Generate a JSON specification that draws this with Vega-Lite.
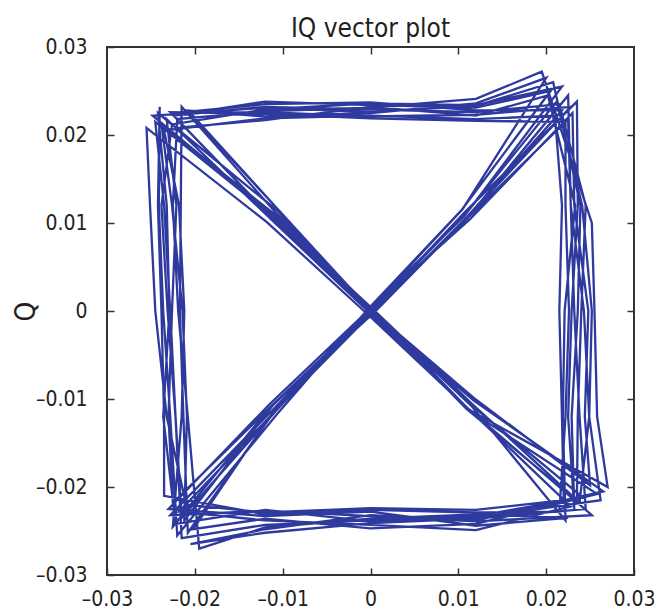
{
  "$schema": "https://vega.github.io/schema/vega-lite/v6.json",
  "autosize": {"type": "none"},
  "padding": {"left": 107, "top": 47, "right": 21, "bottom": 38},
  "width": 527,
  "height": 528,
  "background": "white",
  "title": {"text": "IQ vector plot", "fontSize": 26, "font": "Liberation Sans Narrow, DejaVu Sans Condensed, Roboto Condensed, sans-serif", "fontWeight": "normal", "color": "#231f20", "offset": -6},
  "config": {"view": {"stroke": "#333333", "strokeWidth": 2}},
  "data": {"values": [
    {"i":0,"x":-0.0225,"y":0.0222},
    {"i":1,"x":-0.012,"y":0.0232},{"i":2,"x":0.0,"y":0.0229},{"i":3,"x":0.012,"y":0.0226},{"i":4,"x":0.0215,"y":0.0235},
    {"i":5,"x":0.0245,"y":0.012},{"i":6,"x":0.024,"y":0.0},{"i":7,"x":0.0236,"y":-0.012},{"i":8,"x":0.0235,"y":-0.0215},
    {"i":9,"x":0.0115,"y":-0.0105},{"i":10,"x":0.0003,"y":0.0002},{"i":11,"x":-0.0112,"y":0.0108},{"i":12,"x":-0.0245,"y":0.0215},
    {"i":13,"x":-0.0235,"y":0.012},{"i":14,"x":-0.0228,"y":0.0},{"i":15,"x":-0.0222,"y":-0.012},{"i":16,"x":-0.0215,"y":-0.0235},
    {"i":17,"x":-0.0108,"y":-0.0114},{"i":18,"x":-0.0002,"y":0.0001},{"i":19,"x":0.0105,"y":0.0116},{"i":20,"x":0.02,"y":0.0265},
    {"i":21,"x":0.012,"y":0.0236},{"i":22,"x":0.0,"y":0.0225},{"i":23,"x":-0.012,"y":0.0221},{"i":24,"x":-0.021,"y":0.0228},
    {"i":25,"x":-0.0102,"y":0.0112},{"i":26,"x":0.0001,"y":-0.0003},{"i":27,"x":0.0118,"y":-0.0102},{"i":28,"x":0.0265,"y":-0.0205},
    {"i":29,"x":0.012,"y":-0.0238},{"i":30,"x":0.0,"y":-0.0232},{"i":31,"x":-0.012,"y":-0.0248},{"i":32,"x":-0.0205,"y":-0.0265},
    {"i":33,"x":-0.012,"y":-0.0252},{"i":34,"x":0.0,"y":-0.0241},{"i":35,"x":0.012,"y":-0.0236},{"i":36,"x":0.0245,"y":-0.0225},
    {"i":37,"x":0.0238,"y":-0.012},{"i":38,"x":0.0232,"y":0.0},{"i":39,"x":0.0228,"y":0.012},{"i":40,"x":0.0225,"y":0.0245},
    {"i":41,"x":0.0112,"y":0.0108},{"i":42,"x":0.0004,"y":-0.0002},{"i":43,"x":-0.0114,"y":-0.0109},{"i":44,"x":-0.0225,"y":-0.0245},
    {"i":45,"x":-0.0215,"y":-0.012},{"i":46,"x":-0.0212,"y":0.0},{"i":47,"x":-0.0218,"y":0.012},{"i":48,"x":-0.0235,"y":0.0205},
    {"i":49,"x":-0.012,"y":0.0219},{"i":50,"x":0.0,"y":0.0222},{"i":51,"x":0.012,"y":0.0218},{"i":52,"x":0.021,"y":0.0222},
    {"i":53,"x":0.0218,"y":0.012},{"i":54,"x":0.0215,"y":0.0},{"i":55,"x":0.0218,"y":-0.012},{"i":56,"x":0.022,"y":-0.0215},
    {"i":57,"x":0.012,"y":-0.0226},{"i":58,"x":0.0,"y":-0.0224},{"i":59,"x":-0.012,"y":-0.0229},{"i":60,"x":-0.021,"y":-0.022},
    {"i":61,"x":-0.0232,"y":-0.012},{"i":62,"x":-0.0245,"y":0.0},{"i":63,"x":-0.0251,"y":0.012},{"i":64,"x":-0.0255,"y":0.0208},
    {"i":65,"x":-0.0118,"y":0.0101},{"i":66,"x":-0.0003,"y":-0.0004},{"i":67,"x":0.0112,"y":-0.0112},{"i":68,"x":0.027,"y":-0.02},
    {"i":69,"x":0.0258,"y":-0.012},{"i":70,"x":0.0255,"y":0.0},{"i":71,"x":0.0252,"y":0.01},{"i":72,"x":0.0195,"y":0.0272},
    {"i":73,"x":0.012,"y":0.0241},{"i":74,"x":0.0,"y":0.0231},{"i":75,"x":-0.012,"y":0.0227},{"i":76,"x":-0.022,"y":0.0218},
    {"i":77,"x":-0.0225,"y":0.012},{"i":78,"x":-0.0219,"y":0.0},{"i":79,"x":-0.0208,"y":-0.012},{"i":80,"x":-0.0195,"y":-0.027},
    {"i":81,"x":-0.012,"y":-0.0246},{"i":82,"x":0.0,"y":-0.0236},{"i":83,"x":0.012,"y":-0.0231},{"i":84,"x":0.0225,"y":-0.0235},
    {"i":85,"x":0.012,"y":-0.0244},{"i":86,"x":0.0,"y":-0.0228},{"i":87,"x":-0.012,"y":-0.0233},{"i":88,"x":-0.023,"y":-0.0225},
    {"i":89,"x":-0.0115,"y":-0.0106},{"i":90,"x":0.0,"y":0.0003},{"i":91,"x":0.0113,"y":0.0104},{"i":92,"x":0.023,"y":0.0225},
    {"i":93,"x":0.0232,"y":0.012},{"i":94,"x":0.0248,"y":0.0},{"i":95,"x":0.0244,"y":-0.012},{"i":96,"x":0.025,"y":-0.0198},
    {"i":97,"x":0.0118,"y":-0.0099},{"i":98,"x":-0.0002,"y":0.0003},{"i":99,"x":-0.0105,"y":0.0115},{"i":100,"x":-0.0205,"y":0.0225},
    {"i":101,"x":-0.012,"y":0.0238},{"i":102,"x":0.0,"y":0.0234},{"i":103,"x":0.012,"y":0.0231},{"i":104,"x":0.0205,"y":0.025},
    {"i":105,"x":0.0104,"y":0.0115},{"i":106,"x":-0.0003,"y":0.0002},{"i":107,"x":-0.0107,"y":-0.0118},{"i":108,"x":-0.022,"y":-0.0255},
    {"i":109,"x":-0.0228,"y":-0.012},{"i":110,"x":-0.0236,"y":0.0},{"i":111,"x":-0.0241,"y":0.012},{"i":112,"x":-0.024,"y":0.0232},
    {"i":113,"x":-0.0242,"y":0.012},{"i":114,"x":-0.0238,"y":0.0},{"i":115,"x":-0.0235,"y":-0.012},{"i":116,"x":-0.0235,"y":-0.021},
    {"i":117,"x":-0.012,"y":-0.0231},{"i":118,"x":0.0,"y":-0.0226},{"i":119,"x":0.012,"y":-0.0229},{"i":120,"x":0.0215,"y":-0.0228},
    {"i":121,"x":0.0222,"y":-0.012},{"i":122,"x":0.0226,"y":0.0},{"i":123,"x":0.0222,"y":0.012},{"i":124,"x":0.0222,"y":0.0215},
    {"i":125,"x":0.012,"y":0.0216},{"i":126,"x":0.0,"y":0.0219},{"i":127,"x":-0.012,"y":0.0224},{"i":128,"x":-0.0228,"y":0.0226},
    {"i":129,"x":-0.0112,"y":0.0106},{"i":130,"x":0.0002,"y":-0.0001},{"i":131,"x":0.0109,"y":-0.0111},{"i":132,"x":0.0238,"y":-0.0218},
    {"i":133,"x":0.0249,"y":-0.012},{"i":134,"x":0.0252,"y":0.0},{"i":135,"x":0.0241,"y":0.012},{"i":136,"x":0.0212,"y":0.0238},
    {"i":137,"x":0.0109,"y":0.0111},{"i":138,"x":0.0001,"y":0.0001},{"i":139,"x":-0.0111,"y":-0.0107},{"i":140,"x":-0.0212,"y":-0.0238},
    {"i":141,"x":-0.0209,"y":-0.012},{"i":142,"x":-0.0214,"y":0.0},{"i":143,"x":-0.0226,"y":0.012},{"i":144,"x":-0.0238,"y":0.0212},
    {"i":145,"x":-0.0108,"y":0.0109},{"i":146,"x":-0.0001,"y":0.0002},{"i":147,"x":0.0107,"y":-0.0107},{"i":148,"x":0.0228,"y":-0.0222},
    {"i":149,"x":0.012,"y":-0.0249},{"i":150,"x":0.0,"y":-0.0243},{"i":151,"x":-0.012,"y":-0.0238},{"i":152,"x":-0.0218,"y":-0.0228},
    {"i":153,"x":-0.0106,"y":-0.0111},{"i":154,"x":0.0002,"y":-0.0002},{"i":155,"x":0.011,"y":0.0107},{"i":156,"x":0.0218,"y":0.0228},
    {"i":157,"x":0.012,"y":0.0228},{"i":158,"x":0.0,"y":0.0237},{"i":159,"x":-0.012,"y":0.0235},{"i":160,"x":-0.0222,"y":0.0225},
    {"i":161,"x":-0.012,"y":0.0226},{"i":162,"x":0.0,"y":0.0221},{"i":163,"x":0.012,"y":0.0223},{"i":164,"x":0.0228,"y":0.0232},
    {"i":165,"x":0.0116,"y":0.0113},{"i":166,"x":0.0001,"y":-0.0003},{"i":167,"x":-0.0109,"y":-0.0112},{"i":168,"x":-0.0202,"y":-0.0248},
    {"i":169,"x":-0.012,"y":-0.0236},{"i":170,"x":0.0,"y":-0.0247},{"i":171,"x":0.012,"y":-0.0242},{"i":172,"x":0.0258,"y":-0.0208},
    {"i":173,"x":0.0112,"y":-0.0113},{"i":174,"x":-0.0002,"y":-0.0001},{"i":175,"x":-0.0113,"y":0.0104},{"i":176,"x":-0.0232,"y":0.0218},
    {"i":177,"x":-0.0221,"y":0.012},{"i":178,"x":-0.0226,"y":0.0},{"i":179,"x":-0.023,"y":-0.012},{"i":180,"x":-0.0225,"y":-0.0218},
    {"i":181,"x":-0.0113,"y":-0.0108},{"i":182,"x":0.0003,"y":0.0002},{"i":183,"x":0.0108,"y":0.0113},{"i":184,"x":0.0235,"y":0.0238},
    {"i":185,"x":0.0236,"y":0.012},{"i":186,"x":0.0229,"y":0.0},{"i":187,"x":0.0225,"y":-0.012},{"i":188,"x":0.0232,"y":-0.0225},
    {"i":189,"x":0.0229,"y":-0.012},{"i":190,"x":0.0236,"y":0.0},{"i":191,"x":0.0239,"y":0.012},{"i":192,"x":0.0208,"y":0.026},
    {"i":193,"x":0.012,"y":0.0233},{"i":194,"x":0.0,"y":0.0226},{"i":195,"x":-0.012,"y":0.0231},{"i":196,"x":-0.0248,"y":0.0222},
    {"i":197,"x":-0.0115,"y":0.0112},{"i":198,"x":0.0,"y":0.0},{"i":199,"x":0.0114,"y":-0.0106},{"i":200,"x":0.0242,"y":-0.0212},
    {"i":201,"x":0.012,"y":-0.0233},{"i":202,"x":0.0,"y":-0.0238},{"i":203,"x":-0.012,"y":-0.0243},{"i":204,"x":-0.0215,"y":-0.0258},
    {"i":205,"x":-0.0222,"y":-0.012},{"i":206,"x":-0.0231,"y":0.0},{"i":207,"x":-0.0238,"y":0.012},{"i":208,"x":-0.0226,"y":0.0212},
    {"i":209,"x":-0.012,"y":0.0229},{"i":210,"x":0.0,"y":0.0236},{"i":211,"x":0.012,"y":0.0234},{"i":212,"x":0.0218,"y":0.0255},
    {"i":213,"x":0.0107,"y":0.0108},{"i":214,"x":-0.0001,"y":0.0003},{"i":215,"x":-0.0112,"y":-0.0113},{"i":216,"x":-0.0228,"y":-0.0232},
    {"i":217,"x":-0.012,"y":-0.0227},{"i":218,"x":0.0,"y":-0.0233},{"i":219,"x":0.012,"y":-0.0239},{"i":220,"x":0.0252,"y":-0.0232},
    {"i":221,"x":0.0108,"y":-0.0108},{"i":222,"x":0.0001,"y":0.0002},{"i":223,"x":-0.0108,"y":0.0112},{"i":224,"x":-0.0215,"y":0.0232},
    {"i":225,"x":-0.0216,"y":0.012},{"i":226,"x":-0.0217,"y":0.0},{"i":227,"x":-0.0213,"y":-0.012},{"i":228,"x":-0.0208,"y":-0.0252},
    {"i":229,"x":-0.011,"y":-0.0115},{"i":230,"x":-0.0001,"y":-0.0002},{"i":231,"x":0.0115,"y":0.011},{"i":232,"x":0.0225,"y":0.0218},
    {"i":233,"x":0.0228,"y":0.012},{"i":234,"x":0.0243,"y":0.0},{"i":235,"x":0.0249,"y":-0.012},{"i":236,"x":0.0262,"y":-0.0215},
    {"i":237,"x":0.012,"y":-0.0235},{"i":238,"x":0.0,"y":-0.0239},{"i":239,"x":-0.012,"y":-0.0226},{"i":240,"x":-0.0222,"y":-0.0242},
    {"i":241,"x":-0.0236,"y":-0.012},{"i":242,"x":-0.0229,"y":0.0},{"i":243,"x":-0.0232,"y":0.012},{"i":244,"x":-0.0242,"y":0.0225},
    {"i":245,"x":-0.0106,"y":0.0114},{"i":246,"x":0.0003,"y":-0.0002},{"i":247,"x":0.0116,"y":-0.0109},{"i":248,"x":0.0222,"y":-0.0238},
    {"i":249,"x":0.0219,"y":-0.012},{"i":250,"x":0.0221,"y":0.0},{"i":251,"x":0.0233,"y":0.012},{"i":252,"x":0.0202,"y":0.0245},
    {"i":253,"x":0.012,"y":0.0222},{"i":254,"x":0.0,"y":0.0232},{"i":255,"x":-0.012,"y":0.0217},{"i":256,"x":-0.0222,"y":0.0208}
  ]},
  "resolve": {"axis": {"x": "independent", "y": "independent"}},
  "layer": [
    {
      "mark": {"type": "line", "color": "#2e3a9e", "strokeWidth": 2.3, "strokeJoin": "miter", "clip": true},
      "encoding": {
        "order": {"field": "i", "type": "quantitative"},
        "x": {"field": "x", "type": "quantitative", "scale": {"domain": [-0.03, 0.03], "nice": false, "zero": false},
          "axis": {"orient": "bottom", "title": null, "values": [-0.03, -0.02, -0.01, 0, 0.01, 0.02, 0.03], "grid": false, "ticks": true, "domain": false, "offset": -7, "zindex": 1,
            "labelExpr": "datum.value == 0 ? '0' : (datum.value < 0 ? '–' : '') + format(abs(datum.value), '.2f')",
            "labelFont": "Liberation Sans Narrow, DejaVu Sans Condensed, Roboto Condensed, sans-serif", "labelFontSize": 21, "labelColor": "#231f20",
            "labelFlush": false, "labelOverlap": false, "labelPadding": 13, "tickSize": 7, "tickColor": "#333333", "tickWidth": 1.5}},
        "y": {"field": "y", "type": "quantitative", "scale": {"domain": [-0.03, 0.03], "nice": false, "zero": false},
          "axis": {"orient": "left", "title": "Q", "values": [-0.03, -0.02, -0.01, 0, 0.01, 0.02, 0.03], "grid": false, "ticks": true, "domain": false, "offset": -7, "zindex": 1,
            "labelExpr": "datum.value == 0 ? '0' : (datum.value < 0 ? '–' : '') + format(abs(datum.value), '.2f')",
            "labelFont": "Liberation Sans Narrow, DejaVu Sans Condensed, Roboto Condensed, sans-serif", "labelFontSize": 21, "labelColor": "#231f20",
            "labelFlush": false, "labelOverlap": false, "labelPadding": 20, "tickSize": 7, "tickColor": "#333333", "tickWidth": 1.5,
            "titleFont": "Liberation Sans Narrow, DejaVu Sans Condensed, Roboto Condensed, sans-serif", "titleFontSize": 28, "titleFontWeight": "normal", "titleColor": "#231f20", "titlePadding": -5}}
      }
    },
    {
      "mark": {"type": "line", "opacity": 0},
      "encoding": {
        "order": {"field": "i", "type": "quantitative"},
        "x": {"field": "x", "type": "quantitative", "scale": {"domain": [-0.03, 0.03], "nice": false, "zero": false},
          "axis": {"orient": "top", "title": null, "labels": false, "grid": false, "ticks": true, "domain": false, "offset": -7, "zindex": 1, "values": [-0.02, -0.01, 0, 0.01, 0.02], "tickSize": 7, "tickColor": "#333333", "tickWidth": 1.5}},
        "y": {"field": "y", "type": "quantitative", "scale": {"domain": [-0.03, 0.03], "nice": false, "zero": false},
          "axis": {"orient": "right", "title": null, "labels": false, "grid": false, "ticks": true, "domain": false, "offset": -7, "zindex": 1, "values": [-0.02, -0.01, 0, 0.01, 0.02], "tickSize": 7, "tickColor": "#333333", "tickWidth": 1.5}}
      }
    }
  ]
}
